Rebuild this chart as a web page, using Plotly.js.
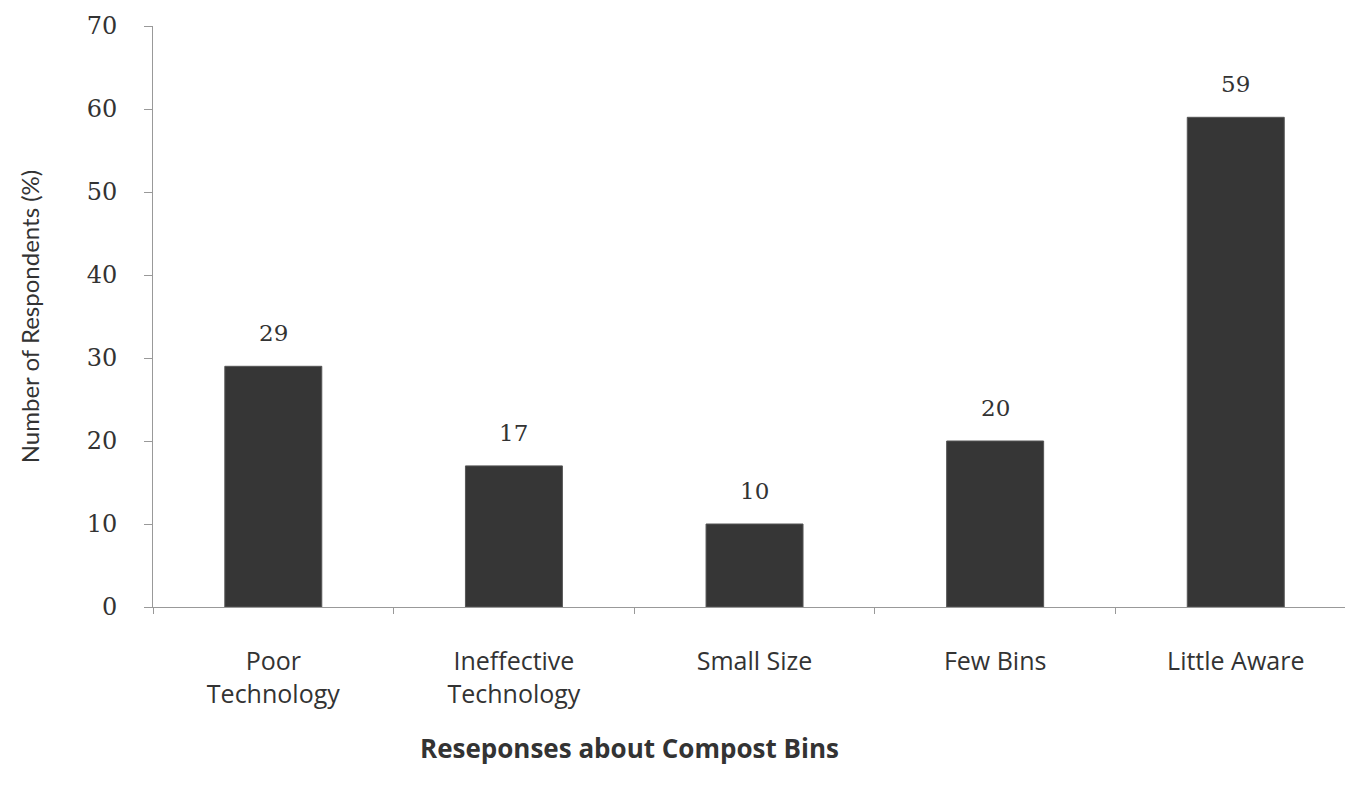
<!DOCTYPE html>
<html><head><meta charset="utf-8">
<script src="https://cdn.plot.ly/plotly-3.0.1.min.js"></script>
<style>html,body{margin:0;padding:0;background:#fff}#chart{width:1345px;height:788px}</style>
</head><body><div id="chart"></div>
<script>
const categories = ["Poor<br>Technology", "Ineffective<br>Technology", "Small Size", "Few Bins", "Little Aware"];
const values = [29, 17, 10, 20, 59];
const yTicks = [0, 10, 20, 30, 40, 50, 60, 70];
const xTitle = 'Reseponses about Compost Bins';

const annotations = categories.map((c, i) => ({
  x: c, y: values[i], text: String(values[i]), showarrow: false,
  yanchor: 'bottom', yshift: 18,
  font: {family: 'DejaVu Serif', size: 23, color: '#333'}
}));
annotations.push({
  xref: 'paper', yref: 'paper', x: 0.4, y: -0.2427,
  xanchor: 'center', yanchor: 'middle', showarrow: false,
  text: '<b>' + xTitle + '</b>',
  font: {family: 'Open Sans', size: 26, color: '#333'}
});

Plotly.newPlot('chart', [{
  type: 'bar', x: categories, y: values,
  marker: {color: '#363636', line: {color: '#555', width: 1}},
  hoverinfo: 'none'
}], {
  width: 1345, height: 788,
  margin: {l: 153, r: 0, t: 26, b: 181},
  paper_bgcolor: '#fff', plot_bgcolor: '#fff',
  bargap: 0.597,
  showlegend: false,
  xaxis: {
    type: 'category', range: [-0.5, 4.454],
    showline: true, linecolor: '#999', linewidth: 1,
    ticks: 'outside', tickson: 'boundaries', ticklen: 6, tickcolor: '#999',
    ticklabelstandoff: 32,
    showgrid: false, zeroline: false,
    tickfont: {family: 'Open Sans', size: 25, color: '#333'}
  },
  yaxis: {
    range: [0, 70], tickvals: yTicks,
    showline: true, linecolor: '#999', linewidth: 1,
    ticks: 'outside', ticklen: 8, tickcolor: '#999',
    ticklabelstandoff: 22,
    showgrid: false, zeroline: false,
    tickfont: {family: 'DejaVu Serif', size: 24, color: '#333'},
    title: {text: 'Number of Respondents (%)', standoff: 40,
            font: {family: 'Lato', size: 24, color: '#333'}}
  },
  annotations: annotations
}, {staticPlot: true});
</script></body></html>
